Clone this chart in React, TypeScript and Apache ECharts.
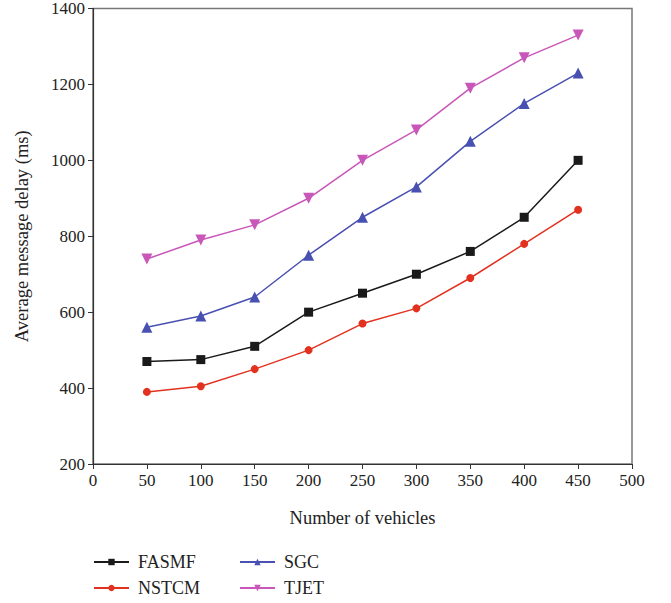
import React, { useEffect, useRef } from "react";
import * as echarts from "echarts";

const vehicles = [50, 100, 150, 200, 250, 300, 350, 400, 450];
const fasmf = [470, 475, 510, 600, 650, 700, 760, 850, 1000];
const nstcm = [390, 405, 450, 500, 570, 610, 690, 780, 870];
const sgc = [560, 590, 640, 750, 850, 930, 1050, 1150, 1230];
const tjet = [740, 790, 830, 900, 1000, 1080, 1190, 1270, 1330];

const FONT = "Liberation Serif";

export default function App() {
  const ref = useRef<HTMLDivElement>(null);
  useEffect(() => {
    if (!ref.current) return;
    const chart = echarts.init(ref.current, null, { renderer: "svg" });
    const pair = (ys: number[]) => vehicles.map((x, i) => [x, ys[i]]);
    const mk = (name: string, ys: number[], color: string, symbol: string, size: number, rotate = 0) => ({
      name,
      type: "line",
      data: pair(ys),
      symbol,
      symbolSize: size,
      symbolRotate: rotate,
      lineStyle: { color, width: 1.5 },
      itemStyle: { color },
      z: 3,
    });
    const legendCommon = {
      orient: "vertical",
      top: 548,
      height: 60,
      itemWidth: 35,
      itemHeight: 8,
      itemGap: 8,
      textStyle: { fontFamily: FONT, fontSize: 18, color: "#222", padding: [0, 0, 0, 4] },
    };
    chart.setOption({
      animation: false,
      textStyle: { fontFamily: FONT },
      grid: { left: 93, right: 39, top: 8, bottom: 139, show: true, borderColor: "#777", borderWidth: 1.5 },
      xAxis: {
        type: "value",
        min: 0,
        max: 500,
        interval: 50,
        name: "Number of vehicles",
        nameLocation: "middle",
        nameGap: 44,
        nameTextStyle: { fontFamily: FONT, fontSize: 18.5, color: "#222" },
        axisLine: { lineStyle: { color: "#333", width: 1.2 } },
        axisTick: { show: true, length: 5, lineStyle: { color: "#333" } },
        axisLabel: { fontFamily: FONT, fontSize: 17, color: "#222", margin: 8, formatter: (v: number) => String(v) },
        splitLine: { show: false },
      },
      yAxis: {
        type: "value",
        min: 200,
        max: 1400,
        interval: 200,
        name: "Average message delay (ms)",
        nameLocation: "middle",
        nameGap: 62,
        nameRotate: 90,
        nameTextStyle: { fontFamily: FONT, fontSize: 18.5, color: "#222" },
        axisLine: { show: true, lineStyle: { color: "#333", width: 1.2 } },
        axisTick: { show: true, length: 5, lineStyle: { color: "#333" } },
        axisLabel: { fontFamily: FONT, fontSize: 17, color: "#222", margin: 8, formatter: (v: number) => String(v) },
        splitLine: { show: false },
      },
      legend: [
        { ...legendCommon, data: ["FASMF", "NSTCM"], left: 88 },
        { ...legendCommon, data: ["SGC", "TJET"], left: 234 },
      ],
      series: [
        mk("FASMF", fasmf, "#1a1a1a", "rect", 9),
        mk("NSTCM", nstcm, "#e2321f", "circle", 8),
        mk("SGC", sgc, "#4850b2", "triangle", 11),
        mk("TJET", tjet, "#c857b9", "triangle", 11, 180),
      ],
    });
    return () => chart.dispose();
  }, []);
  return <div ref={ref} style={{ width: 671, height: 603, position: "absolute", left: 0, top: 0 }} />;
}
